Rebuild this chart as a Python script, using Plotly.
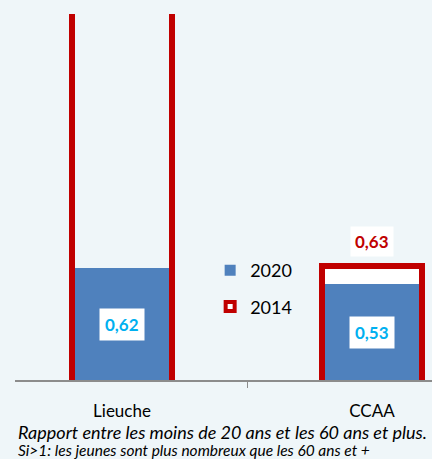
import plotly.graph_objects as go

categories = ["Lieuche", "CCAA"]
values_2020 = [0.62, 0.53]
values_2014 = [2.4, 0.63]  # Lieuche 2014 runs off the top of the chart
shown_2014_labels = [False, True]

BG = "#EFF6F9"
BLUE = "#4F81BD"
RED = "#C00000"
CYAN = "#00B0F0"
FONT = "Lato, Open Sans, sans-serif"

def fmt(v):
    return f"{v:.2f}".replace(".", ",")

fig = go.Figure()
fig.add_trace(go.Bar(
    x=categories, y=values_2014, name="2014",
    width=0.4,
    marker=dict(color=["rgba(0,0,0,0)", "white"], line=dict(color=RED, width=6)),
    showlegend=False,
))
fig.add_trace(go.Bar(
    x=categories, y=values_2020, name="2020",
    width=0.376,
    marker=dict(color=BLUE, line=dict(width=0)),
    showlegend=False,
))

# legend entries
fig.add_trace(go.Scatter(
    x=[None], y=[None], mode="markers", name="2020", legendgroup="a",
    marker=dict(symbol="square", size=11, color=BLUE),
))
fig.add_trace(go.Scatter(
    x=[None], y=[None], mode="markers", name="2014", legendgroup="b",
    marker=dict(symbol="square", size=9, color="white", line=dict(color=RED, width=4)),
))

for c, v in zip(categories, values_2020):
    fig.add_annotation(x=c, y=v / 2, text=f"<b>{fmt(v)}</b>", showarrow=False,
                       font=dict(family=FONT, size=17, color=CYAN),
                       bgcolor="white", borderpad=5)
for c, v, show in zip(categories, values_2014, shown_2014_labels):
    if show:
        fig.add_annotation(x=c, y=v, text=f"<b>{fmt(v)}</b>", showarrow=False,
                           yanchor="bottom", yshift=9,
                           font=dict(family=FONT, size=17, color=RED),
                           bgcolor="white", borderpad=4)

fig.add_annotation(xref="paper", yref="paper", x=0.005, y=-0.142, xanchor="left", yanchor="middle",
                   text="<i>Rapport entre les moins de 20 ans et les 60 ans et plus.</i>",
                   showarrow=False, font=dict(family=FONT, size=18, color="black"), borderpad=0)
fig.add_annotation(xref="paper", yref="paper", x=0.005, y=-0.19, xanchor="left", yanchor="middle",
                   text="<i>Si>1: les jeunes sont plus nombreux que les 60 ans et +</i>",
                   showarrow=False, font=dict(family=FONT, size=15.5, color="black"), borderpad=0)

fig.update_layout(
    width=432, height=459,
    margin=dict(l=15, r=0, t=14, b=79),
    paper_bgcolor=BG, plot_bgcolor=BG,
    barmode="overlay", bargap=0,
    font=dict(family=FONT, size=17, color="black"),
    legend=dict(x=0.468, y=0.25, xanchor="left", yanchor="middle",
                bgcolor="rgba(0,0,0,0)", font=dict(size=18), itemwidth=30,
                tracegroupgap=10, traceorder="grouped"),
    xaxis=dict(type="category", range=[-0.428, 1.24], showline=True, linecolor="#8C8C8C",
               linewidth=2, ticks="outside", tickson="boundaries", ticklen=6,
               tickcolor="#8C8C8C", tickwidth=1, showgrid=False, zeroline=False,
               ticklabelstandoff=15, tickfont=dict(size=17)),
    yaxis=dict(range=[0, 2.03], visible=False, showgrid=False, zeroline=False),
)

fig.write_html("out.html", config={"displayModeBar": False},
               post_script="document.body.style.margin='0';")
